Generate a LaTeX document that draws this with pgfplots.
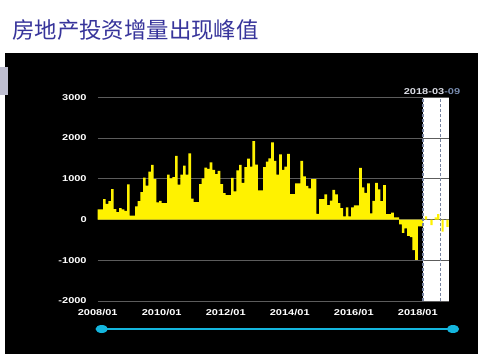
\documentclass[border=0pt]{standalone}
\usepackage{pgfplots}
\pgfplotsset{compat=1.18}
\usepackage{fontspec}
\setmainfont{Liberation Sans}
\newfontfamily\cjk{Noto Sans CJK SC}
\definecolor{titleblue}{RGB}{55,52,155}
\definecolor{gridgray}{RGB}{92,92,92}
\definecolor{slider}{RGB}{20,182,222}
\definecolor{sidegray}{RGB}{190,190,208}
\definecolor{dashc}{RGB}{120,132,160}
\definecolor{labgray}{RGB}{220,222,230}
\definecolor{labblue}{RGB}{120,140,175}
\begin{document}
\begin{tikzpicture}[x=1bp,y=1bp]
\fill[white] (0,0) rectangle (500,356);
\fill[black] (5,2) rectangle (478,303);
\fill[sidegray] (0,261) rectangle (8,289);
\fill[white] (423.1,55) rectangle (449,258.7);
\node[anchor=west, text=titleblue, font=\cjk\fontsize{22.5}{23}\selectfont, inner sep=0] at (12,326) {房地产投资增量出现峰值};
\begin{axis}[
  at={(97.7bp,55bp)}, anchor=south west,
  width=351.3bp, height=203.7bp, scale only axis,
  xmin=0, xmax=131.7, ymin=-2000, ymax=3000,
  axis line style={draw=none},
  ytick={-2000,-1000,0,1000,2000,3000},
  yticklabels={-2000,-1000,0,1000,2000,3000},
  xtick={0,24,48,72,96,120},
  xticklabels={2008/01,2010/01,2012/01,2014/01,2016/01,2018/01},
  major tick length=0pt,
  ymajorgrids,
  grid style={color=gridgray, line width=0.8pt},
  tick label style={text=white, font=\bfseries\fontsize{8.5}{9}\selectfont, xscale=1.3},
  yticklabel style={xshift=-5bp},
  xticklabel style={yshift=-4.5bp},
]
\addplot[const plot, fill=yellow, draw=none] coordinates {
(0,250)(1,250)(2,500)(3,385)(4,450)(5,745)(6,255)(7,180)(8,280)(9,250)
(10,215)(11,865)(12,95)(13,95)(14,320)(15,450)(16,670)(17,1030)(18,830)(19,1175)
(20,1340)(21,990)(22,420)(23,460)(24,405)(25,405)(26,1100)(27,1010)(28,1040)(29,1560)
(30,855)(31,1100)(32,1320)(33,1100)(34,1625)(35,510)(36,430)(37,430)(38,870)(39,1010)
(40,1275)(41,1245)(42,1400)(43,1220)(44,1115)(45,1195)(46,870)(47,650)(48,600)(49,600)
(50,1025)(51,690)(52,1205)(53,1340)(54,900)(55,1285)(56,1495)(57,1300)(58,1925)(59,1350)
(60,715)(61,715)(62,1285)(63,1420)(64,1500)(65,1895)(66,1440)(67,1100)(68,1600)(69,1220)
(70,1300)(71,1610)(72,625)(73,625)(74,890)(75,890)(76,1440)(77,1060)(78,825)(79,765)
(80,990)(81,990)(82,140)(83,500)(84,500)(85,615)(86,355)(87,465)(88,730)(89,620)
(90,400)(91,280)(92,80)(93,300)(94,80)(95,300)(96,350)(97,350)(98,1270)(99,790)
(100,655)(101,885)(102,150)(103,460)(104,900)(105,740)(106,450)(107,845)(108,130)(109,130)
(110,170)(111,50)(112,50)(113,-120)(114,-330)(115,-220)(116,-400)(117,-430)(118,-750)(119,-990)
(120,-170)(121,-170)(122,-170)
} \closedcycle;
\addplot[ybar, bar width=2.2bp, fill=yellow, draw=none] coordinates {
(123.1,80)(125.1,-140)(126.7,50)(127.7,130)(129.3,-300)(131.1,-180)
};
\draw[dashc, line width=1.3pt, densely dashed] (axis cs:122,-2000) -- (axis cs:122,3000);
\draw[dashc, line width=0.8pt, densely dashed] (axis cs:128.3,-2000) -- (axis cs:128.3,3000);
\end{axis}
\node[font=\bfseries\fontsize{8.5}{9}\selectfont, xscale=1.3, inner sep=0] at (432,264.5) {\textcolor{labgray}{2018-03}\textcolor{labblue}{-09}};
\draw[slider, line width=2.2bp] (101.7,27) -- (453,27);
\fill[slider] (101.7,27) ellipse [x radius=6.2, y radius=4];
\fill[slider] (453,27) ellipse [x radius=6.2, y radius=4];
\end{tikzpicture}
\end{document}
